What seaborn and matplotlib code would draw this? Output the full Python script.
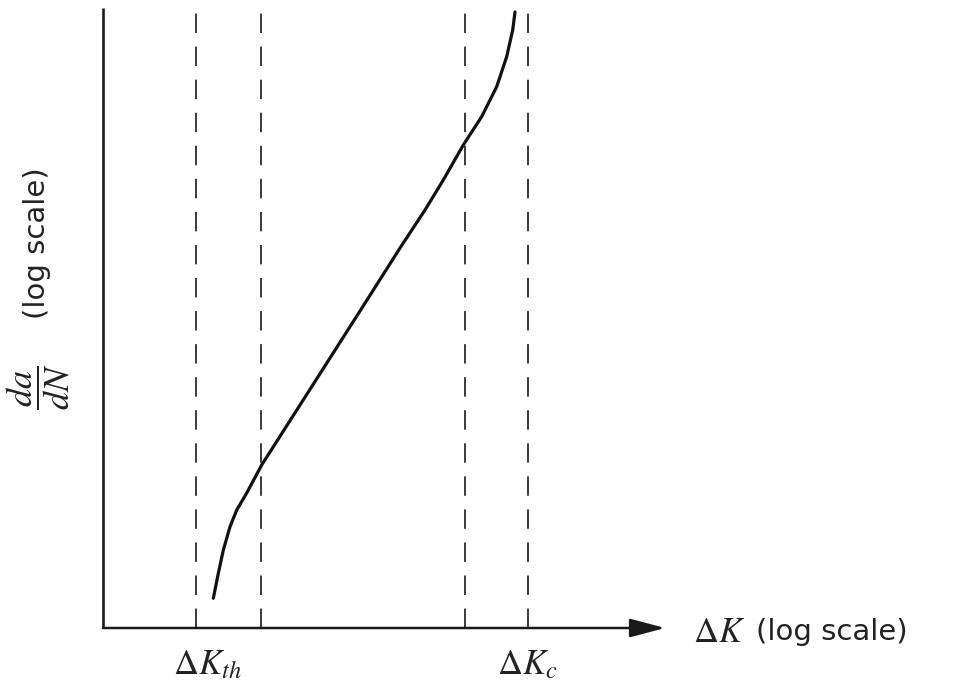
import matplotlib
matplotlib.use("Agg")
import matplotlib.pyplot as plt
import seaborn as sns
import pandas as pd

# Fatigue crack growth curve (arbitrary log units)
curve_logK = [1.963, 2.052, 2.141, 2.260, 2.379, 2.557, 2.824, 4.573,
              5.285, 5.730, 6.055, 6.411, 6.738, 7.005, 7.183, 7.290, 7.331]
curve_logdadN = [0.481, 0.885, 1.262, 1.639, 1.909, 2.184, 2.638, 5.129,
                 6.149, 6.764, 7.249, 7.816, 8.274, 8.759, 9.245, 9.676, 9.968]

# dashed vertical markers (log ΔK positions)
dashed_x = [1.65, 2.81, 6.44, 7.56]

x_label_sym = r"$\Delta K$"
x_label_text = "(log scale)"
y_label_frac = r"$\dfrac{da}{dN}$"
y_label_text = "(log scale)"
tick_labels = [r"$\Delta K_{th}$", r"$\Delta K_{c}$"]
tick_label_x = [1.85, 7.55]

sns.set_style("white")
plt.rcParams["mathtext.fontset"] = "stix"
plt.rcParams["font.family"] = ["DejaVu Sans"]

fig = plt.figure(figsize=(9.62, 6.87), dpi=100)
ax = fig.add_axes([0, 0, 1, 1])
ax.set_xlim(-103 / 56.2, (962 - 103) / 56.2)
ax.set_ylim(-59 / 61.8, (687 - 59) / 61.8)
ax.axis("off")

# dashed lines
ax.vlines(dashed_x, 0, 9.97, colors="#3a3a3a", linestyles=(0, (10, 7)), linewidth=1.4)

# y axis
ax.plot([0, 0], [0, 10.03], color="#1a1a1a", linewidth=1.9, solid_capstyle="butt")
# x axis with arrow
ax.annotate("", xy=(10.0, 0), xytext=(0, 0),
            arrowprops=dict(arrowstyle="-|>,head_length=1.2,head_width=0.32",
                            color="#1a1a1a", lw=1.8, mutation_scale=18,
                            shrinkA=0, shrinkB=0))

df = pd.DataFrame({"logK": curve_logK, "logdadN": curve_logdadN})
sns.lineplot(data=df, x="logK", y="logdadN", ax=ax, color="#111111",
             linewidth=2.3, sort=False, estimator=None)

ax.text(10.50, -0.07, x_label_sym, fontsize=25, va="center", ha="left", color="#222222")
ax.text(11.62, -0.07, x_label_text, fontsize=21, va="center", ha="left", color="#222222")
ax.text(-1.15, 3.90, y_label_frac, fontsize=26, va="center", ha="center",
        rotation=90, color="#222222")
ax.text(-1.17, 6.23, y_label_text, fontsize=21, va="center", ha="center",
        rotation=90, color="#222222")
for xv, lab in zip(tick_label_x, tick_labels):
    ax.text(xv, -0.58, lab, fontsize=25, va="center", ha="center", color="#222222")

fig.savefig("out.png", dpi=100, facecolor="white")
